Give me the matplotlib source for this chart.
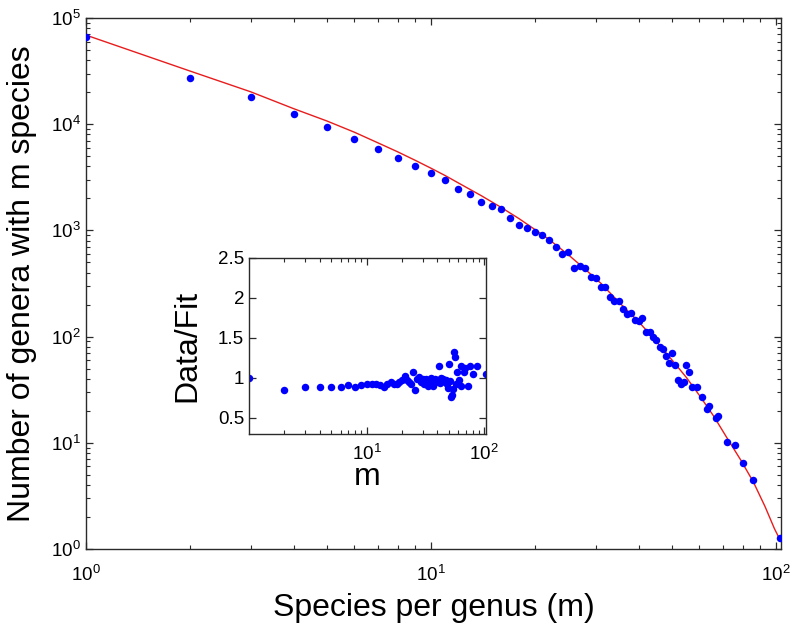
import matplotlib
matplotlib.use("Agg")
import matplotlib.pyplot as plt
from matplotlib.ticker import LogLocator, LogFormatterSciNotation, NullFormatter

plt.rcParams['font.family'] = ['Liberation Sans', 'DejaVu Sans']
plt.rcParams['mathtext.fontset'] = 'custom'
plt.rcParams['mathtext.rm'] = 'Liberation Sans'
plt.rcParams['mathtext.default'] = 'regular'

# ---- data ----
species_m = [1, 2, 3, 4, 5, 6, 7, 8, 9, 10, 11, 12, 13, 14, 15, 16, 17, 18, 19, 20,
             21, 22, 23, 24, 25, 26, 27, 28, 29, 30, 31, 32, 33, 34, 35, 36, 37, 38, 39, 40,
             41, 42, 43, 44, 45, 46, 47, 48, 49, 50, 51, 52, 53, 54, 55, 56, 57, 59, 61, 63,
             64, 67, 68, 72, 76, 80, 86, 103]
genera_count = [66700, 27000, 18000, 12400, 9480, 7310, 5840, 4840, 4040, 3440,
                2985, 2470, 2217, 1840, 1710, 1582, 1308, 1132, 1047, 973,
                906, 807, 693, 596, 622, 442, 465, 442, 366, 354,
                293, 293, 234, 218, 218, 181, 162, 168, 144, 139,
                151, 111, 111, 99, 92, 79, 76, 65.6, 56.4, 70.5,
                54.4, 38.8, 36.1, 37.4, 54.4, 46.8, 33.5, 33.5, 26.8, 20.6,
                22.2, 17.1, 17.8, 10.2, 9.45, 6.5, 4.46, 1.26]
data_fit_ratio = [1.00, 0.85, 0.89, 0.89, 0.89, 0.89, 0.91, 0.89, 0.91, 0.92,
                  0.93, 0.92, 0.91, 0.89, 0.93, 0.95, 0.92, 0.93, 0.95, 0.97,
                  1.02, 0.98, 0.95, 0.93, 1.07, 0.85, 0.99, 1.01, 0.95, 0.99,
                  0.93, 0.99, 0.90, 0.93, 1.00, 0.93, 0.90, 0.99, 0.95, 0.98,
                  1.15, 0.94, 1.00, 0.98, 0.99, 0.95, 0.97, 0.93, 0.88, 1.17,
                  0.96, 0.76, 0.79, 0.86, 1.32, 1.26, 0.92, 1.08, 0.98, 0.90,
                  1.15, 1.07, 1.13, 0.90, 1.15, 1.05, 1.15, 1.05]
fit_m = [1, 2, 3, 4, 5, 6, 7, 8, 9, 10, 11, 12, 14, 16, 18, 20, 22, 25, 28, 31,
         35, 40, 45, 50, 55, 60, 66, 72, 79, 86, 93, 99, 103]
fit_count = [69000, 31700, 20200, 14000, 10700, 8400, 6700, 5500, 4570, 3850,
             3280, 2800, 2120, 1640, 1290, 1020, 820, 590, 430, 320,
             212, 138, 90, 60, 41.2, 27.9, 17.8, 11.2, 6.9, 4.27, 2.5, 1.55, 1.2]
inset_xticks = [10, 100]
inset_yticks = [0.5, 1, 1.5, 2, 2.5]
inset_yticklabels = ['0.5', '1', '1.5', '2', '2.5']

W, H = 793, 627
fig = plt.figure(figsize=(W / 100, H / 100), dpi=100)

axcol = '#2a2a2a'

def style(ax):
    for s in ax.spines.values():
        s.set_color(axcol)
        s.set_linewidth(1.0)
    ax.tick_params(which='both', direction='in', top=True, right=True,
                   colors=axcol, labelcolor='black', labelsize=13.5)
    ax.tick_params(which='major', length=5, width=0.9)
    ax.tick_params(which='minor', length=3.2, width=0.8)

ax = fig.add_axes([86 / W, 1 - 549 / H, 695 / W, 531 / H])
ax.plot(fit_m, fit_count, color='#e81c1c', lw=1.0, zorder=2)
ax.plot(species_m, genera_count, 'o', color='#0000ff', ms=5.4, mec='none', zorder=3)
ax.set_xscale('log')
ax.set_yscale('log')
ax.set_xlim(1, 103.4)
ax.set_ylim(1, 1e5)
ax.xaxis.set_major_locator(LogLocator(base=10, numticks=10))
ax.yaxis.set_major_locator(LogLocator(base=10, numticks=10))
ax.xaxis.set_major_formatter(LogFormatterSciNotation())
ax.yaxis.set_major_formatter(LogFormatterSciNotation())
ax.xaxis.set_minor_locator(LogLocator(base=10, subs=range(2, 10), numticks=20))
ax.yaxis.set_minor_locator(LogLocator(base=10, subs=range(2, 10), numticks=20))
ax.xaxis.set_minor_formatter(NullFormatter())
ax.yaxis.set_minor_formatter(NullFormatter())
style(ax)
ax.tick_params(axis='x', which='major', pad=11.5)
ax.set_xlabel('Species per genus (m)', fontsize=23, labelpad=6)
ax.set_ylabel('Number of genera with m species', fontsize=23, labelpad=10)

ins = fig.add_axes([249 / W, 1 - 434 / H, 237 / W, 176 / H])
ins.plot(species_m, data_fit_ratio, 'o', color='#0000ff', ms=5.4, mec='none')
ins.set_xscale('log')
ins.set_xlim(1, 103.4)
ins.set_ylim(0.3, 2.5)
ins.set_yticks(inset_yticks)
ins.set_yticklabels(inset_yticklabels)
ins.set_xticks(inset_xticks)
ins.xaxis.set_major_formatter(LogFormatterSciNotation())
ins.xaxis.set_minor_locator(LogLocator(base=10, subs=range(2, 10), numticks=20))
ins.xaxis.set_minor_formatter(NullFormatter())
style(ins)
ins.tick_params(axis='x', which='major', pad=7)
ins.set_xlabel('m', fontsize=23, labelpad=-1)
ins.set_ylabel('Data/Fit', fontsize=23, labelpad=11)

fig.savefig('out.png', dpi=100)
